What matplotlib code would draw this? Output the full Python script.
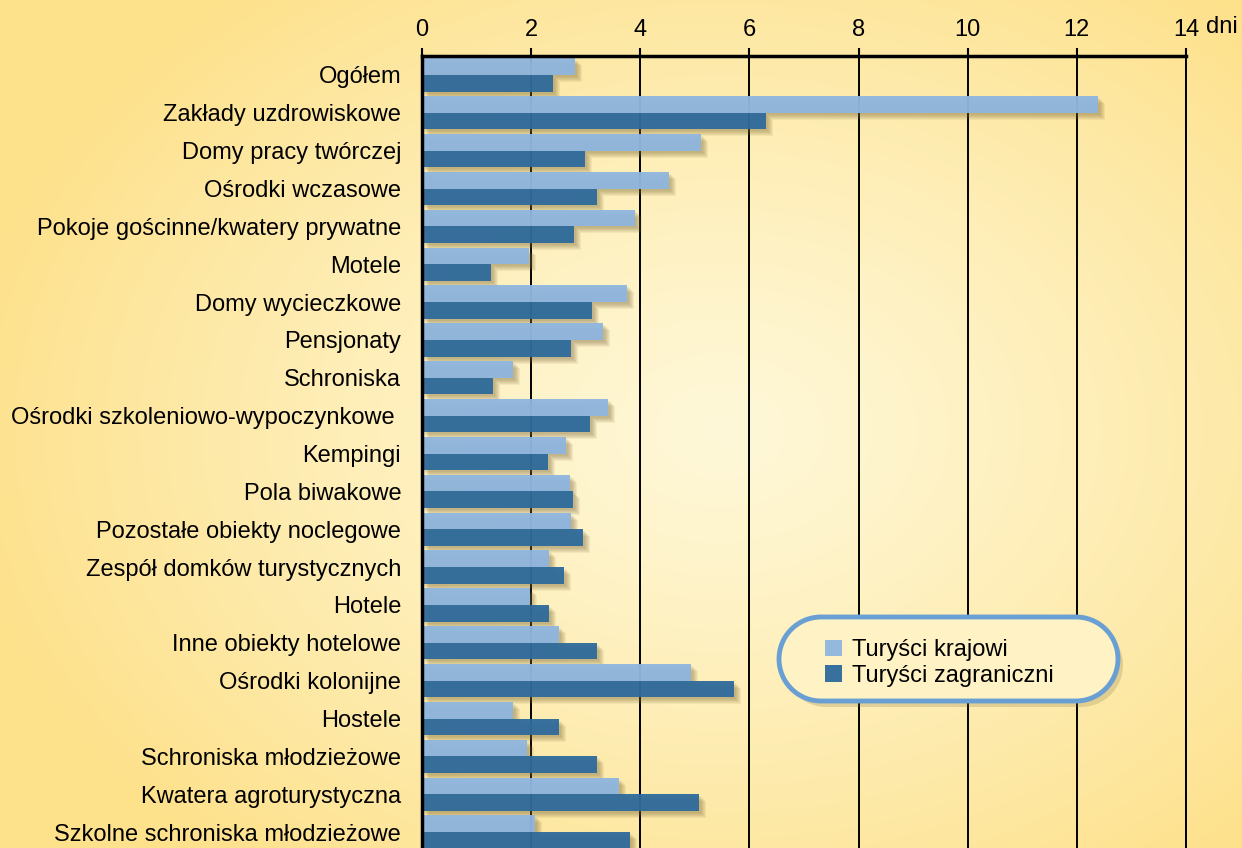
import numpy as np
import matplotlib
matplotlib.use('Agg')
import matplotlib.pyplot as plt
from matplotlib import transforms
from matplotlib.patches import PathPatch
from matplotlib.path import Path

categories = ['Ogółem', 'Zakłady uzdrowiskowe', 'Domy pracy twórczej', 'Ośrodki wczasowe',
              'Pokoje gościnne/kwatery prywatne', 'Motele', 'Domy wycieczkowe', 'Pensjonaty',
              'Schroniska', 'Ośrodki szkoleniowo-wypoczynkowe ', 'Kempingi', 'Pola biwakowe',
              'Pozostałe obiekty noclegowe', 'Zespół domków turystycznych', 'Hotele',
              'Inne obiekty hotelowe', 'Ośrodki kolonijne', 'Hostele', 'Schroniska młodzieżowe',
              'Kwatera agroturystyczna', 'Szkolne schroniska młodzieżowe']
krajowi = [2.80, 12.39, 5.11, 4.53, 3.90, 1.96, 3.76, 3.32, 1.67, 3.41, 2.64,
           2.71, 2.73, 2.33, 1.98, 2.51, 4.93, 1.67, 1.92, 3.61, 2.07]
zagraniczni = [2.40, 6.30, 2.99, 3.21, 2.79, 1.26, 3.12, 2.73, 1.30, 3.08, 2.31,
               2.77, 2.95, 2.60, 2.33, 3.21, 5.72, 2.51, 3.21, 5.08, 3.81]
ticks = [0, 2, 4, 6, 8, 10, 12, 14]
series_names = ['Turyści krajowi', 'Turyści zagraniczni']

plt.rcParams['font.family'] = ['Liberation Sans', 'DejaVu Sans']
FS = 17

W, H = 1242, 848
fig = plt.figure(figsize=(W / 100, H / 100), dpi=100)

# background radial gradient
bg = fig.add_axes([0, 0, 1, 1], zorder=-10)
yy, xx = np.mgrid[0:H, 0:W]
d = np.sqrt(((xx - 720) / 760.0) ** 2 + ((yy - 430) / 560.0) ** 2)
d = np.clip(d, 0, 1) ** 1.2
c0 = np.array([255, 248, 216]) / 255
c1 = np.array([253, 225, 140]) / 255
img = c0 + (c1 - c0) * d[..., None]
bg.imshow(img, aspect='auto')
bg.set_axis_off()

ax = fig.add_axes([422 / W, 0, (1186 - 422) / W, (H - 56) / H])
ax.patch.set_alpha(0)

y = np.arange(len(categories))
bh = 0.44
light = '#8FB6DF'
dark = '#2E6A9C'

# soft shadow behind the bars
for k in range(2, 8):
    tr = transforms.offset_copy(ax.transData, fig=fig, x=k, y=-k, units='dots')
    ax.barh(y - 0.22, krajowi, height=bh, color='#7d6b3a', alpha=0.09, lw=0,
            transform=tr, zorder=1.5)
    ax.barh(y + 0.22, zagraniczni, height=bh, color='#7d6b3a', alpha=0.09, lw=0,
            transform=tr, zorder=1.5)

b1 = ax.barh(y - 0.22, krajowi, height=bh, color=light, lw=0, alpha=0.95, zorder=2)
b2 = ax.barh(y + 0.22, zagraniczni, height=bh, color=dark, lw=0, alpha=0.95, zorder=2)

ax.set_xlim(0, 14)
ax.set_ylim(20.42, -0.5)
ax.set_yticks(y)
ax.set_yticklabels(categories, fontsize=FS)
ax.tick_params(axis='y', length=0, pad=15)

ax.xaxis.tick_top()
ax.set_xticks(ticks)
ax.set_xticklabels([str(t) for t in ticks], fontsize=FS)
ax.tick_params(axis='x', direction='out', length=6, width=1.5, pad=5)
ax.set_axisbelow(True)
ax.grid(axis='x', color='black', lw=1.4)

ax.spines['bottom'].set_visible(False)
ax.spines['top'].set_linewidth(2.5)
ax.spines['left'].set_linewidth(2.5)
ax.spines['right'].set_linewidth(1.4)

fig.text(1206 / W, 1 - 27 / H, 'dni', fontsize=FS, ha='left', va='center')


def stadium(x0, y0, w, h):
    r = h / 2
    a1 = np.linspace(np.pi / 2, 3 * np.pi / 2, 40)
    a2 = np.linspace(-np.pi / 2, np.pi / 2, 40)
    left = np.c_[x0 + r + r * np.cos(a1), y0 + r + r * np.sin(a1)]
    right = np.c_[x0 + w - r + r * np.cos(a2), y0 + r + r * np.sin(a2)]
    verts = np.vstack([left, right, left[:1]])
    codes = [Path.MOVETO] + [Path.LINETO] * (len(verts) - 2) + [Path.CLOSEPOLY]
    return Path(verts, codes)


# legend box (inches)
lx, ly, lw_, lh = 7.79, 1.47, 3.39, 0.84
sh = PathPatch(stadium(lx + 0.05, ly - 0.06, lw_, lh), transform=fig.dpi_scale_trans,
               facecolor='#7d6b3a', alpha=0.22, lw=0, clip_on=False, zorder=6)
ax.add_patch(sh)
box = PathPatch(stadium(lx, ly, lw_, lh), transform=fig.dpi_scale_trans,
                facecolor='#FFF2C4', edgecolor='#6A9FD4', lw=3.5, clip_on=False, zorder=7)
ax.add_patch(box)
leg = ax.legend([b1, b2], series_names, loc='center left',
                bbox_to_anchor=(804 / W, 1 - 663 / H), bbox_transform=fig.transFigure,
                frameon=False, fontsize=FS, handlelength=0.7, handleheight=0.7,
                handletextpad=0.45, labelspacing=0.15)
leg.set_zorder(10)

fig.savefig('out.png', dpi=100)
